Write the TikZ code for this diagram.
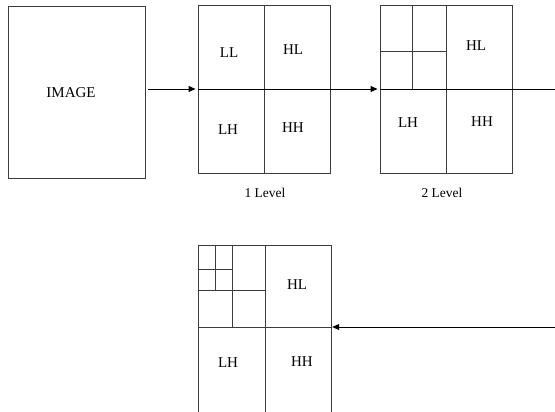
\documentclass[tikz,border=0pt]{standalone}
\usepackage{fontspec}
\setmainfont{Liberation Serif}
\usepackage{tikz}
\usetikzlibrary{
  arrows.meta,
  calc,
  positioning
}
\definecolor{lineink}{RGB}{60,60,60}
\tikzset{
  tile/.style={draw=lineink,line width=0.9pt,inner sep=0pt,
    minimum width=132pt,minimum height=166pt},
  split/.style={draw=lineink,line width=0.9pt},
  flow/.style={-{Triangle[length=7pt,width=6pt]},line width=0.9pt,draw=black},
  lab/.style={font=\fontsize{15}{17}\selectfont,inner sep=0pt},
  levelcap/.style={font=\fontsize{13.5}{15}\selectfont,inner sep=0pt}
}

\begin{document}
\begin{tikzpicture}[x=1pt,y=-1pt]
  \useasboundingbox (0,0) rectangle (555,412);
  % input image
  \node[tile,minimum width=137pt,minimum height=172pt] (image) at (77,92.5) {};
  \node[lab] (imagetxt) at (71,93) {IMAGE};
  % level 1
  \node[tile,minimum height=168pt] (lvlone) at (264,89) {};
  \draw[split] (lvlone.north) -- (lvlone.south);
  \node[lab] (oneLL) at (229,53) {LL};
  \node[lab] (oneHL) at (293,50) {HL};
  \node[lab] (oneLH) at (228,130) {LH};
  \node[lab] (oneHH) at (293,128) {HH};
  \node[levelcap] (onecap) at (265,193) {1 Level};
  % level 2
  \node[tile,minimum height=168pt] (lvltwo) at (446,89) {};
  \draw[split] (lvltwo.north) -- (lvltwo.south);
  \draw[split] ($(lvltwo.north west)!0.25!(lvltwo.north east)$) -- ($(lvltwo.west)!0.25!(lvltwo.east)$);
  \draw[split] (380,51) -- (447,51);
  \node[lab] (twoHL) at (476,46) {HL};
  \node[lab] (twoLH) at (408,123) {LH};
  \node[lab] (twoHH) at (482,122) {HH};
  \node[levelcap] (twocap) at (442,193) {2 Level};
  % level 3, open at the bottom
  \node[inner sep=0pt,minimum width=132pt,minimum height=162pt] (lvlthree) at (265,327) {};
  \draw[split] ([yshift=-10pt]lvlthree.south west) -- (lvlthree.north west)
    -- (lvlthree.north east) -- ([yshift=-10pt]lvlthree.south east);
  \draw[split] (lvlthree.west) -- (lvlthree.east);
  \draw[split] (lvlthree.north) -- ([yshift=-10pt]lvlthree.south);
  \draw[split] (232,246) -- (232,327);
  \draw[split] (199,290) -- (266,290);
  \draw[split] (215,246) -- (215,290);
  \draw[split] (199,269) -- (232,269);
  \node[lab] (threeHL) at (297,285) {HL};
  \node[lab] (threeLH) at (228,363) {LH};
  \node[lab] (threeHH) at (302,362) {HH};
  % connectors
  \coordinate (rtop) at (555,89);
  \coordinate (rbot) at (555,327);
  \draw[flow,shorten <=2pt,shorten >=2pt] (image.east |- lvlone.west) -- (lvlone.west);
  \draw[flow,shorten >=2pt] (lvlone.west) -- (lvltwo.west);
  \draw[split,draw=black] (lvltwo.west) -- (rtop);
  \draw[flow,shorten >=1pt] (rbot) -- (lvlthree.east);
\end{tikzpicture}
\end{document}
